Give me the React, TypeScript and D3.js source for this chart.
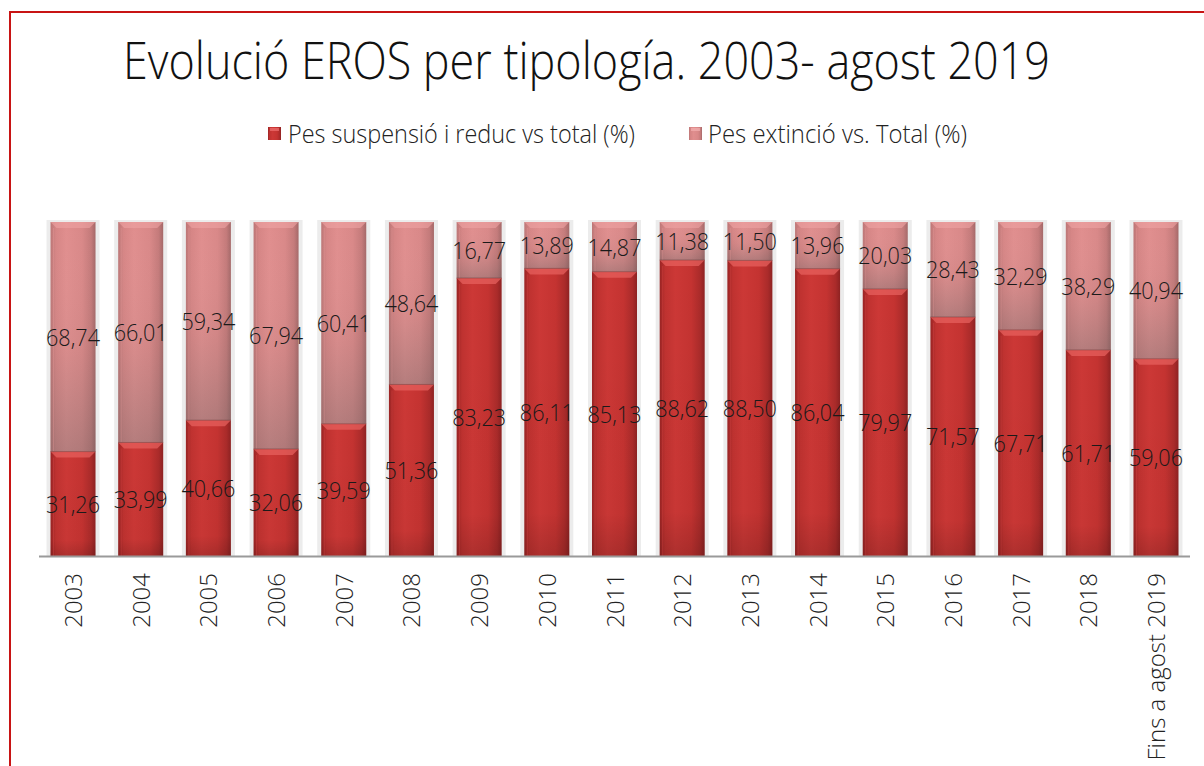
import React from "react";
import * as d3 from "d3";

const categories = ["2003","2004","2005","2006","2007","2008","2009","2010","2011","2012","2013","2014","2015","2016","2017","2018","Fins a agost 2019"];
const suspensio = [31.26,33.99,40.66,32.06,39.59,51.36,83.23,86.11,85.13,88.62,88.50,86.04,79.97,71.57,67.71,61.71,59.06];
const extincio = [68.74,66.01,59.34,67.94,60.41,48.64,16.77,13.89,14.87,11.38,11.50,13.96,20.03,28.43,32.29,38.29,40.94];
const seriesNames = ["Pes suspensió i reduc vs total (%)", "Pes extinció vs. Total (%)"];

const W = 1204, H = 766;
const FONT = "'Open Sans', 'Noto Sans', sans-serif";

export default function App() {
  const x = d3.scaleBand<string>().domain(categories).range([39, 1190]).paddingInner(0.335).paddingOuter(0.17);
  const y = d3.scaleLinear().domain([0, 100]).range([556, 222]);
  const fmt = (v: number) => v.toFixed(2).replace(".", ",");
  const bw = x.bandwidth();

  return (
    <svg width={W} height={H} style={{ position: "absolute", left: 0, top: 0 }}>
      <defs>
        <linearGradient id="redH" x1="0" x2="1" y1="0" y2="0">
          <stop offset="0" stopColor="#9a2424" />
          <stop offset="0.12" stopColor="#bf3230" />
          <stop offset="0.35" stopColor="#cc3836" />
          <stop offset="0.7" stopColor="#c43331" />
          <stop offset="0.9" stopColor="#aa2b2a" />
          <stop offset="1" stopColor="#8e2222" />
        </linearGradient>
        <linearGradient id="pinkH" x1="0" x2="1" y1="0" y2="0">
          <stop offset="0" stopColor="#bc7676" />
          <stop offset="0.12" stopColor="#d68585" />
          <stop offset="0.35" stopColor="#e08e8e" />
          <stop offset="0.7" stopColor="#d98888" />
          <stop offset="0.9" stopColor="#c47a7a" />
          <stop offset="1" stopColor="#a46868" />
        </linearGradient>
        <linearGradient id="pinkShade" x1="0" x2="0" y1="0" y2="1">
          <stop offset="0" stopColor="#ffffff" stopOpacity="0" />
          <stop offset="0.55" stopColor="#6a6a6a" stopOpacity="0.06" />
          <stop offset="1" stopColor="#5a5a5a" stopOpacity="0.32" />
        </linearGradient>
        <linearGradient id="redShade" x1="0" x2="0" y1="0" y2="1">
          <stop offset="0" stopColor="#000" stopOpacity="0" />
          <stop offset="0.85" stopColor="#000" stopOpacity="0.02" />
          <stop offset="1" stopColor="#000" stopOpacity="0.15" />
        </linearGradient>
      </defs>
      <rect x={0} y={0} width={W} height={H} fill="#ffffff" />
      <rect x={10} y={12} width={W + 20} height={H + 20} fill="none" stroke="#c81414" strokeWidth={2} />

      <text x={123} y={79} textLength={927} lengthAdjust="spacingAndGlyphs" fontFamily={FONT} fontWeight={300} fontSize={51} fill="#111">
        Evolució EROS per tipología. 2003- agost 2019
      </text>

      {/* legend */}
      <rect x={268} y={127} width={13} height={13} fill="url(#redH)" />
      <rect x={270} y={128} width={9} height={3} fill="#f07070" opacity={0.7} />
      <text x={288} y={143} textLength={347} lengthAdjust="spacingAndGlyphs" fontFamily={FONT} fontWeight={300} fontSize={25} fill="#222">{seriesNames[0]}</text>
      <rect x={689} y={127} width={13} height={13} fill="url(#pinkH)" />
      <rect x={691} y={128} width={9} height={3} fill="#f4b0b0" opacity={0.7} />
      <text x={708} y={143} textLength={259} lengthAdjust="spacingAndGlyphs" fontFamily={FONT} fontWeight={300} fontSize={25} fill="#222">{seriesNames[1]}</text>

      {/* bars */}
      {categories.map((c, i) => {
        const x0 = x(c)!;
        const yb = y(0);
        const ym = y(suspensio[i]);
        const yt = y(suspensio[i] + extincio[i]);
        const bev = 6;
        const cx = x0 + bw / 2;
        return (
          <g key={c}>
            <rect x={x0 - 4} y={yt - 2} width={bw + 8} height={yb - yt + 2} fill="#ececec" />
            {/* top segment */}
            <rect x={x0} y={yt} width={bw} height={ym - yt} fill="url(#pinkH)" />
            <rect x={x0} y={yt} width={bw} height={ym - yt} fill="url(#pinkShade)" />
            <path d={`M${x0},${yt} L${x0 + bw},${yt} L${x0 + bw - bev},${yt + bev} L${x0 + bev},${yt + bev} Z`} fill="#eea4a4" opacity={0.6} />
            <line x1={x0 + 3} x2={x0 + 3} y1={yt + bev} y2={ym} stroke="#f0a0a0" strokeOpacity={0.3} strokeWidth={1} />
            {/* bottom segment */}
            <rect x={x0} y={ym} width={bw} height={yb - ym} fill="url(#redH)" />
            <rect x={x0} y={ym} width={bw} height={yb - ym} fill="url(#redShade)" />
            <path d={`M${x0},${ym} L${x0 + bw},${ym} L${x0 + bw - bev},${ym + bev} L${x0 + bev},${ym + bev} Z`} fill="#e86260" opacity={0.7} />
            <line x1={x0} x2={x0 + bw} y1={ym} y2={ym} stroke="#6a4040" strokeOpacity={0.5} strokeWidth={1} />
            <line x1={x0 + 3} x2={x0 + 3} y1={ym + bev} y2={yb} stroke="#e05050" strokeOpacity={0.3} strokeWidth={1} />
            {/* labels */}
            <text x={cx - 27} y={(yb + ym) / 2 + 9} textLength={54} lengthAdjust="spacingAndGlyphs" fontFamily={FONT} fontWeight={300} fontSize={23} fill="#1a1a1a">{fmt(suspensio[i])}</text>
            <text x={cx - 27} y={(ym + yt) / 2 + 9} textLength={54} lengthAdjust="spacingAndGlyphs" fontFamily={FONT} fontWeight={300} fontSize={23} fill="#1a1a1a">{fmt(extincio[i])}</text>
          </g>
        );
      })}

      {/* axis */}
      <line x1={39} x2={1190} y1={556.5} y2={556.5} stroke="#9a9a9a" strokeWidth={2} />
      {categories.map((c) => {
        const cx = x(c)! + bw / 2;
        return (
          <text key={c} transform={`translate(${cx + 9},573) rotate(-90)`} textAnchor="end" fontFamily={FONT} fontWeight={300} fontSize={24} fill="#222">{c}</text>
        );
      })}
    </svg>
  );
}
